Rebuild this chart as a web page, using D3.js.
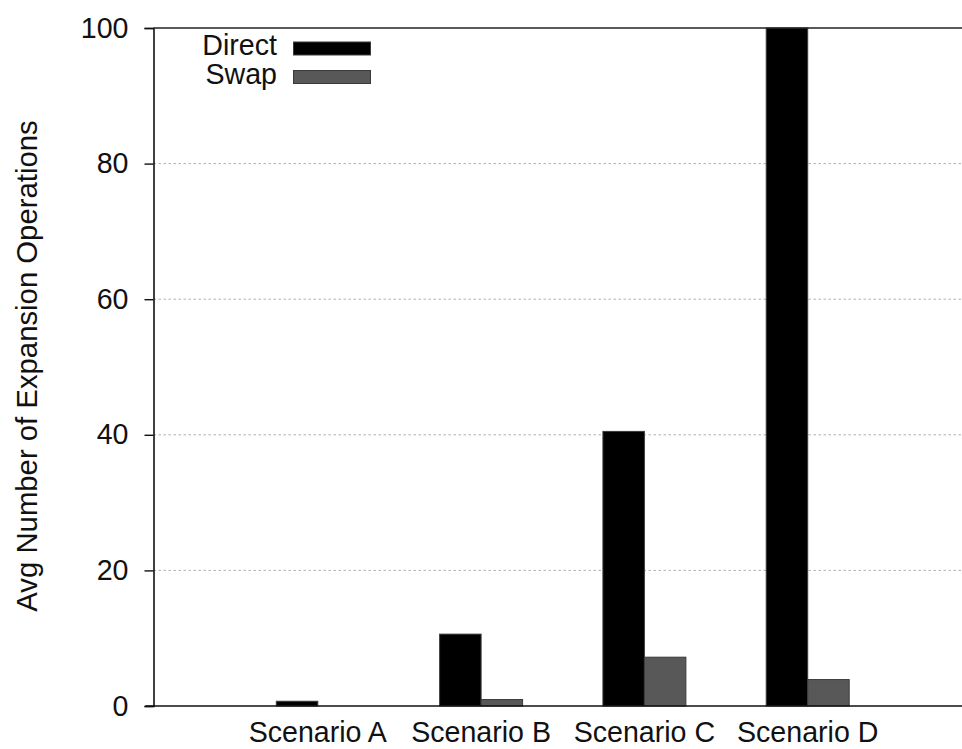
<!DOCTYPE html>
<html>
<head>
<meta charset="utf-8">
<script src="https://cdn.jsdelivr.net/npm/d3@7/dist/d3.min.js"></script>
<style>
  html, body { margin: 0; padding: 0; background: #fff; }
  svg { display: block; }
  text { font-family: "Liberation Sans", Arial, sans-serif; fill: #111; }
</style>
</head>
<body>
<svg id="chart" width="962" height="749"></svg>
<script>
// Scenario categories and per-series averages
const categories = ["Scenario A", "Scenario B", "Scenario C", "Scenario D"];
const seriesNames = ["Direct", "Swap"];
const directValues = [0.7, 10.6, 40.5, 100];
const swapValues = [0, 0.95, 7.2, 3.9];
const yTicks = [0, 20, 40, 60, 80, 100];
const yTitle = "Avg Number of Expansion Operations";

const colors = { Direct: "#000000", Swap: "#585858" };
const fontSize = 28.6;

const W = 962, H = 749;
const plotLeft = 153.5, plotTop = 28, plotBottom = 706, plotRight = 971;

const svg = d3.select("#chart");

// Category positions follow a numeric x axis running from -1 to 4
const x = d3.scaleLinear().domain([-1, 4]).range([plotLeft + 1, plotRight]);
const y = d3.scaleLinear().domain([0, 100]).range([plotBottom, plotTop]);
const barW = x(0.254) - x(0);

// Dotted horizontal grid
svg.append("g")
  .selectAll("line")
  .data(yTicks.filter(t => t > 0 && t < 100))
  .join("line")
  .attr("x1", plotLeft).attr("x2", W)
  .attr("y1", d => y(d)).attr("y2", d => y(d))
  .attr("stroke", "#b0b0b0")
  .attr("stroke-width", 1)
  .attr("stroke-dasharray", "2.5,2.5");

// Bars
const rows = categories.map((c, i) => ({ i, c, Direct: directValues[i], Swap: swapValues[i] }));
const barsG = svg.append("g");
seriesNames.forEach((s, k) => {
  barsG.append("g")
    .selectAll("rect")
    .data(rows.filter(r => r[s] > 0))
    .join("rect")
    .attr("x", r => x(r.i) + (k === 0 ? -barW : 0))
    .attr("y", r => y(r[s]))
    .attr("width", barW)
    .attr("height", r => y(0) - y(r[s]))
    .attr("fill", colors[s])
    .attr("stroke", "#3a3a3a")
    .attr("stroke-width", 1);
});

// Left axis with outward ticks
const yAxis = svg.append("g")
  .attr("transform", `translate(${plotLeft},0)`)
  .call(d3.axisLeft(y).tickValues(yTicks).tickSize(9).tickPadding(16).tickFormat(d3.format("d")));
yAxis.select(".domain").attr("stroke", "#111").attr("stroke-width", 1.6);
yAxis.selectAll(".tick line").attr("stroke", "#111").attr("stroke-width", 1.4);
yAxis.selectAll(".tick text")
  .attr("font-size", fontSize)
  .attr("font-family", "'Liberation Sans', Arial, sans-serif")
  .attr("fill", "#111");

// Top border and baseline
svg.append("line")
  .attr("x1", plotLeft).attr("x2", W)
  .attr("y1", plotTop).attr("y2", plotTop)
  .attr("stroke", "#222").attr("stroke-width", 1.6);
svg.append("line")
  .attr("x1", plotLeft - 8).attr("x2", W)
  .attr("y1", plotBottom).attr("y2", plotBottom)
  .attr("stroke", "#111").attr("stroke-width", 1.6);

// Category labels
svg.append("g")
  .selectAll("text")
  .data(rows)
  .join("text")
  .attr("x", r => x(r.i))
  .attr("y", plotBottom + 36)
  .attr("text-anchor", "middle")
  .attr("font-size", fontSize)
  .text(r => r.c);

// Y axis title
svg.append("text")
  .attr("transform", `translate(37,366) rotate(-90)`)
  .attr("text-anchor", "middle")
  .attr("font-size", 29.3)
  .text(yTitle);

// Legend
const legend = svg.append("g");
seriesNames.forEach((s, k) => {
  const ly = 55 + k * 28.5;
  legend.append("text")
    .attr("x", 277).attr("y", ly)
    .attr("text-anchor", "end")
    .attr("font-size", fontSize)
    .text(s);
  legend.append("rect")
    .attr("x", 293.5).attr("y", ly - 13)
    .attr("width", 77).attr("height", 13)
    .attr("fill", colors[s])
    .attr("stroke", "#3a3a3a")
    .attr("stroke-width", 1);
});
</script>
</body>
</html>
